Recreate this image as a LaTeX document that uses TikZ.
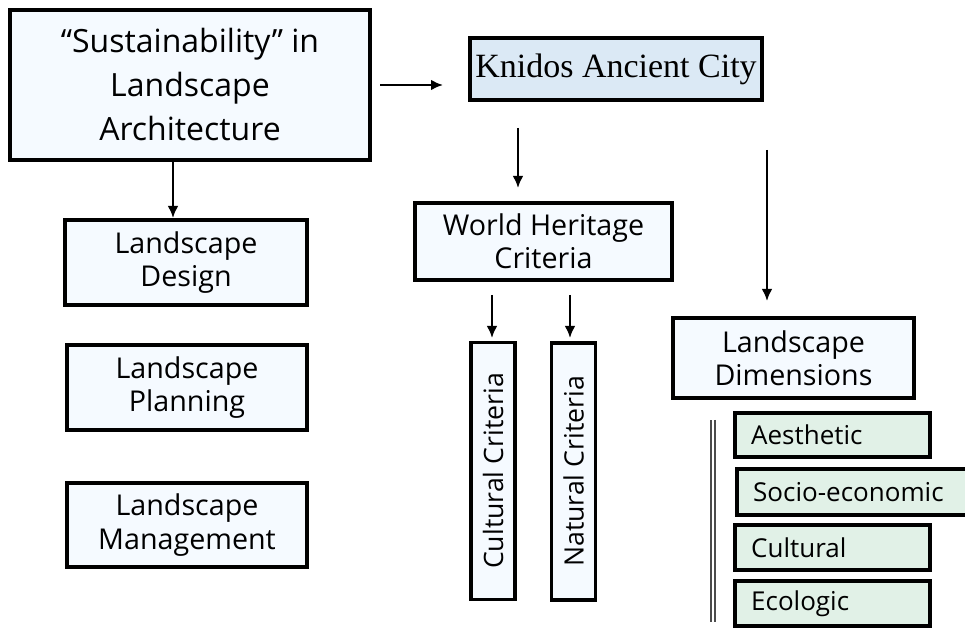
\documentclass[tikz,border=0pt]{standalone}
\usepackage{fontspec}
\setmainfont{Open Sans}
\newfontfamily\knidosfont{Liberation Serif}
\usetikzlibrary{arrows.meta}
\definecolor{palebox}{HTML}{F5FAFF}
\definecolor{cityblue}{HTML}{DBE9F5}
\definecolor{dimgreen}{HTML}{E1F1E7}
\begin{document}
\begin{tikzpicture}[x=0.75pt,y=-0.75pt,
  box/.style={draw=black,line width=2.6pt,fill=palebox,align=center,inner sep=0pt,
    font=\fontsize{21.5pt}{25pt}\selectfont},
  dimbox/.style={box,fill=dimgreen,align=left,inner xsep=12pt,minimum height=33pt,
    font=\fontsize{19.5pt}{22pt}\selectfont},
  critbox/.style={box,rotate=90,minimum width=193pt,minimum height=33pt,
    font=\fontsize{20pt}{22pt}\selectfont},
  arr/.style={-{Latex[length=9pt,width=8pt]},line width=1.6pt}]
  \useasboundingbox (0,0) rectangle (965,630);
  \clip (0,0) rectangle (965,630);

  %caixas da esquerda
  \node[box,minimum width=270pt,minimum height=112.5pt,font=\fontsize{24pt}{33pt}\selectfont]
    (sust) at (190,85) {``Sustainability'' in\\Landscape\\Architecture};
  \node[box,minimum width=181.5pt,minimum height=63.75pt] (design) at (186,262.5) {Landscape\\Design};
  \node[box,minimum width=180pt,minimum height=63.75pt] (planning) at (187,387.5) {Landscape\\Planning};
  \node[box,minimum width=180pt,minimum height=63pt] (manage) at (187,525) {Landscape\\Management};

  %cidade e criterios
  \node[box,fill=cityblue,minimum width=219pt,minimum height=46.5pt,font=\knidosfont\fontsize{25.5pt}{30pt}\selectfont]
    (knidos) at (616,69) {Knidos Ancient City};
  \node[box,minimum width=192.75pt,minimum height=57.75pt] (heritage) at (543.5,241.5) {World Heritage\\Criteria};
  \node[critbox] (cultcrit) at (493,471) {Cultural Criteria};
  \node[critbox] (natcrit) at (573.5,471.5) {Natural Criteria};

  %dimensoes
  \node[box,minimum width=180.75pt,minimum height=60pt] (dims) at (793.5,358) {Landscape\\Dimensions};
  \node[dimbox,text width=122pt] (aesth) at (832.5,435) {Aesthetic};
  \node[dimbox,text width=149pt,minimum height=34.5pt] (socio) at (852.5,492) {Socio-economic};
  \node[dimbox,text width=122pt,minimum height=34pt] (cultdim) at (832.5,547.5) {Cultural};
  \node[dimbox,text width=122pt,minimum height=34pt] (ecol) at (832.5,603.5) {Ecologic};

  %pontas das setas
  \coordinate (s1) at (380,85);
  \coordinate (s2) at (443,85);
  \coordinate (d1) at (173,160);
  \coordinate (d2) at (173,218);
  \coordinate (k1) at (518,128);
  \coordinate (k2) at (518,188);
  \coordinate (c1) at (492,295);
  \coordinate (c2) at (492,338);
  \coordinate (n1) at (570,295);
  \coordinate (n2) at (570,338);
  \coordinate (l1) at (767,150);
  \coordinate (l2) at (767,301);
  \coordinate (v1) at (713,420);
  \coordinate (v2) at (713,622);

  \draw[arr] (s1) -- (s2);
  \draw[arr] (d1) -- (d2);
  \draw[arr] (k1) -- (k2);
  \draw[arr] (c1) -- (c2);
  \draw[arr] (n1) -- (n2);
  \draw[arr] (l1) -- (l2);
  \draw[black!70,line width=1.3pt,double=white,double distance=1.6pt] (v1) -- (v2);
\end{tikzpicture}
\end{document}
